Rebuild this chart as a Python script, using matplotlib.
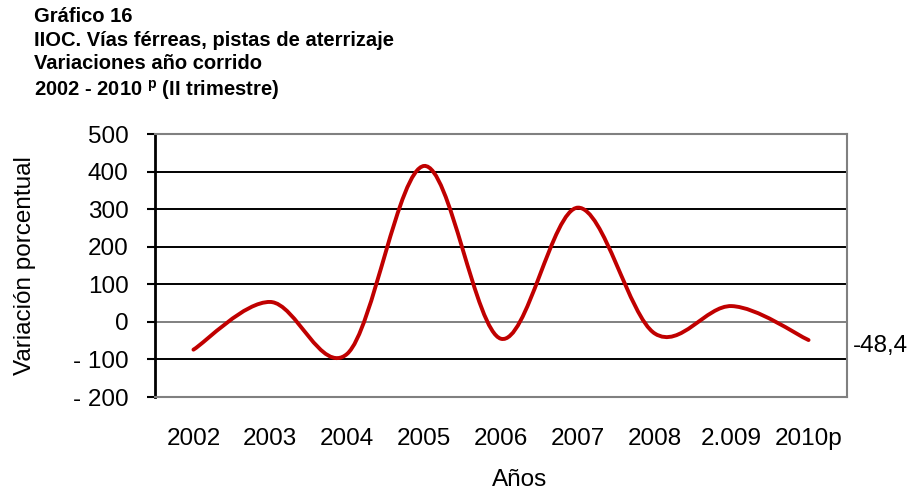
import numpy as np
import matplotlib
matplotlib.use("Agg")
from matplotlib import pyplot as plt
from matplotlib.path import Path
from matplotlib.patches import PathPatch

plt.rcParams['font.family'] = ['Liberation Sans', 'DejaVu Sans']
plt.rcParams['mathtext.fontset'] = 'custom'
plt.rcParams['mathtext.rm'] = 'Liberation Sans'
plt.rcParams['mathtext.bf'] = 'Liberation Sans:bold'

years = ["2002", "2003", "2004", "2005", "2006", "2007", "2008", "2.009", "2010p"]
values = [-74, 53, -85, 415, -45, 304, -31, 42, -48.4]
yticks = [-200, -100, 0, 100, 200, 300, 400, 500]
ytick_labels = ["- 200", "- 100", "0", "100", "200", "300", "400", "500"]

fig = plt.figure(figsize=(9.14, 4.9), dpi=100)
ax = fig.add_axes([155/914, 1-397/490, 692/914, 263/490])

x = np.arange(len(values)) + 0.5
y = np.array(values, dtype=float)

# excel-style smoothed line: cubic bezier segments through the points
px = np.concatenate([[x[0]], x, [x[-1]]])
py = np.concatenate([[y[0]], y, [y[-1]]])
verts = [(x[0], y[0])]
codes = [Path.MOVETO]
for i in range(1, len(px) - 2):
    c1 = (px[i] + (px[i+1] - px[i-1]) / 6, py[i] + (py[i+1] - py[i-1]) / 6)
    c2 = (px[i+1] - (px[i+2] - px[i]) / 6, py[i+1] - (py[i+2] - py[i]) / 6)
    verts += [c1, c2, (px[i+1], py[i+1])]
    codes += [Path.CURVE4] * 3
ax.add_patch(PathPatch(Path(verts, codes), facecolor='none', edgecolor='#C00000',
                       lw=2.8, capstyle='round', zorder=3))

ax.set_xlim(0, 9)
ax.set_ylim(-200, 500)
for v in yticks:
    col = '#808080' if v in (-200, 0, 500) else 'black'
    ax.axhline(v, color=col, lw=1.4, zorder=1)

ax.set_yticks(yticks)
ax.set_yticklabels(ytick_labels, fontsize=17.5)
ax.set_xticks(x)
ax.set_xticklabels(years, fontsize=17.5)
ax.tick_params(axis='x', length=0, pad=22)
ax.tick_params(axis='y', length=6, width=1.5, direction='out', pad=13)

ax.spines['left'].set_color('black')
ax.spines['left'].set_linewidth(2)
for s in ['top', 'right', 'bottom']:
    ax.spines[s].set_color('#808080')
    ax.spines[s].set_linewidth(1.5)

ax.set_ylabel("Variación porcentual", fontsize=17.5)
ax.yaxis.set_label_coords(-0.172, 0.5)
ax.set_xlabel("Años", fontsize=17.5)
ax.xaxis.set_label_coords(0.527, -0.272)

ax.annotate("-48,4", xy=(1.008, values[-1]), xycoords=ax.get_yaxis_transform(),
            xytext=(0, -4), textcoords='offset points',
            fontsize=17.5, va='center', ha='left')

title = "Gráfico 16\nIIOC. Vías férreas, pistas de aterrizaje\nVariaciones año corrido\n2002 - 2010 $^{\\mathbf{p}}$ (II trimestre)"
fig.text(34/914, 1-7/490, title, fontsize=14.5, fontweight='bold', va='top', ha='left',
         linespacing=1.3)

fig.savefig("out.png", dpi=100)
